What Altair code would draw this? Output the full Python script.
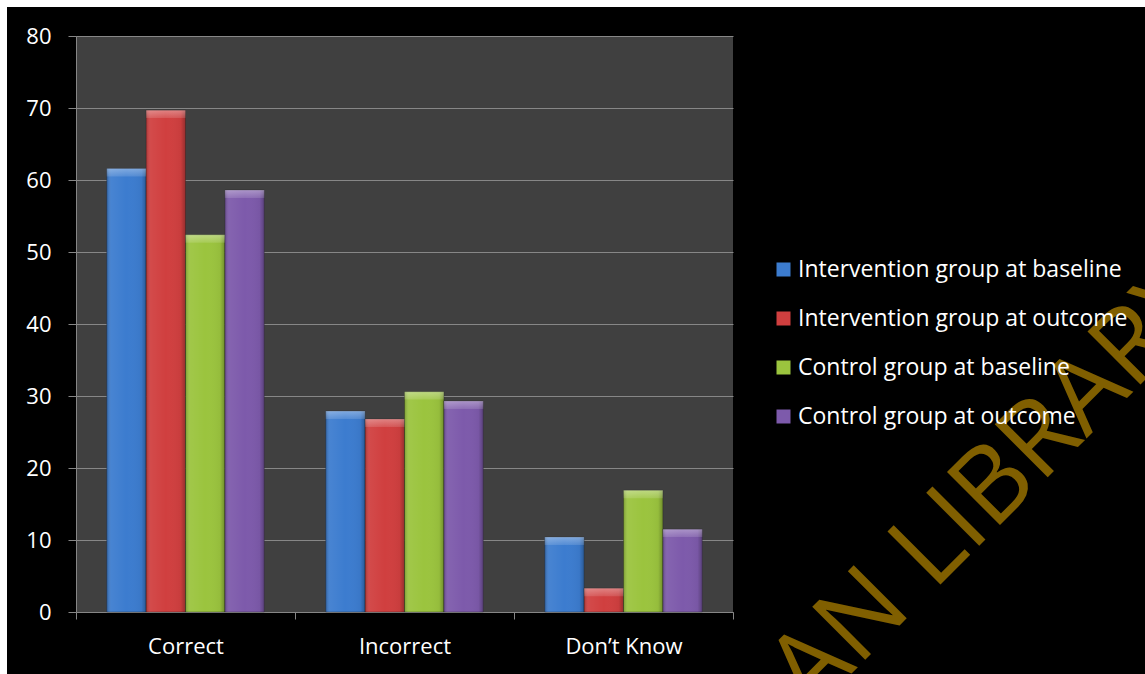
import altair as alt
import pandas as pd

categories = ["Correct", "Incorrect", "Don\u2019t Know"]
series = [
    "Intervention group at baseline",
    "Intervention group at outcome",
    "Control group at baseline",
    "Control group at outcome",
]
# one list per series, values in category order
intervention_baseline = [61.6, 27.9, 10.4]
intervention_outcome = [69.7, 26.8, 3.3]
control_baseline = [52.4, 30.6, 16.9]
control_outcome = [58.6, 29.3, 11.5]
colors = ["#3c7ccf", "#d03f3f", "#9bc43e", "#7d5aab"]
y_ticks = list(range(0, 81, 10))
watermark = "AN LIBRARY"

series_values = [intervention_baseline, intervention_outcome, control_baseline, control_outcome]
rows = []
for s, vals in zip(series, series_values):
    for c, v in zip(categories, vals):
        rows.append({"Category": c, "Series": s, "Value": v})
df = pd.DataFrame(rows)

W, H = 657, 576
PAD = {"left": 76, "top": 36, "right": 412, "bottom": 62}
FONT = "Open Sans"

x_enc = alt.X(
    "Category:N",
    sort=categories,
    scale=alt.Scale(paddingInner=0, paddingOuter=0),
    axis=alt.Axis(
        title=None,
        labelAngle=0,
        tickBand="extent",
        tickSize=7,
        tickColor="#868686",
        domainColor="#868686",
        labelColor="white",
        labelFont=FONT,
        labelFontSize=22,
        labelPadding=17,
        grid=False,
    ),
)
xoff_enc = alt.XOffset(
    "Series:N", sort=series, scale=alt.Scale(paddingInner=0, paddingOuter=0.78)
)
y_enc = alt.Y(
    "Value:Q",
    scale=alt.Scale(domain=[0, 80], nice=False),
    axis=alt.Axis(
        title=None,
        values=y_ticks,
        grid=True,
        gridColor="#878787",
        gridWidth=1.2,
        tickSize=8,
        tickColor="#868686",
        domainColor="#868686",
        labelColor="white",
        labelFont=FONT,
        labelFontSize=22,
        labelPadding=17,
    ),
)

base = alt.Chart(df)

bars = base.mark_bar(stroke="#202020", strokeWidth=0.6, strokeOpacity=0.6).encode(
    x=x_enc,
    xOffset=xoff_enc,
    y=y_enc,
    color=alt.Color(
        "Series:N",
        sort=series,
        scale=alt.Scale(domain=series, range=colors),
        legend=alt.Legend(
            title=None,
            orient="none",
            legendX=696,
            legendY=222,
            padding=0,
            symbolType="square",
            symbolSize=196,
            symbolStrokeWidth=0,
            labelColor="white",
            labelFont=FONT,
            labelFontSize=23,
            labelOffset=3,
            rowPadding=25,
            labelLimit=500,
        ),
    ),
)

shade = base.mark_bar(
    color=alt.Gradient(
        gradient="linear",
        x1=0, x2=1, y1=0, y2=0,
        stops=[
            alt.GradientStop(color="rgba(0,0,0,0.22)", offset=0),
            alt.GradientStop(color="rgba(255,255,255,0.06)", offset=0.12),
            alt.GradientStop(color="rgba(255,255,255,0.0)", offset=0.5),
            alt.GradientStop(color="rgba(0,0,0,0.04)", offset=0.88),
            alt.GradientStop(color="rgba(0,0,0,0.28)", offset=1),
        ],
    )
).encode(x=x_enc, xOffset=xoff_enc, y=y_enc)

cap = base.transform_calculate(cap="datum.Value - 1.1").mark_bar(
    color=alt.Gradient(
        gradient="linear",
        x1=0, x2=0, y1=0, y2=1,
        stops=[
            alt.GradientStop(color="rgba(255,255,255,0.35)", offset=0),
            alt.GradientStop(color="rgba(255,255,255,0.12)", offset=1),
        ],
    )
).encode(x=x_enc, xOffset=xoff_enc, y=y_enc, y2="cap:Q")

one = pd.DataFrame({"k": [0]})
white_top = alt.Chart(one).mark_rect(color="white").encode(
    x=alt.value(-PAD["left"]), x2=alt.value(W + PAD["right"]),
    y=alt.value(-PAD["top"]), y2=alt.value(-PAD["top"] + 7),
)
white_left = alt.Chart(one).mark_rect(color="white").encode(
    x=alt.value(-PAD["left"]), x2=alt.value(-PAD["left"] + 7),
    y=alt.value(-PAD["top"]), y2=alt.value(H + PAD["bottom"]),
)

wm = alt.Chart(pd.DataFrame({"t": [watermark]})).mark_text(
    angle=315,
    align="left",
    baseline="alphabetic",
    font=FONT,
    fontSize=105,
    color="#ffbe00",
    opacity=0.5,
).encode(text="t:N", x=alt.value(811 - PAD["left"]), y=alt.value(714 - PAD["top"]))

chart = (
    alt.layer(bars, shade, cap, wm, white_top, white_left)
    .properties(
        width=W,
        height=H,
        padding=PAD,
        autosize=alt.AutoSizeParams(type="none"),
        background="black",
    )
    .configure_view(fill="#404040", stroke=None)
)

chart.save("out.html", embed_options={"renderer": "svg", "actions": False})
